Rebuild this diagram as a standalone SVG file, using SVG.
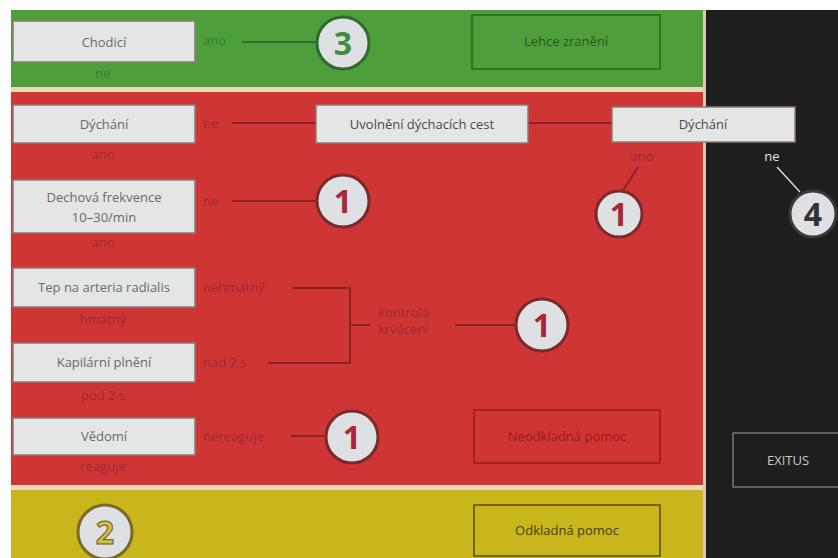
<svg xmlns="http://www.w3.org/2000/svg" width="838" height="558" viewBox="0 0 838 558">
<defs>
<style>
text{font-family:"Open Sans","Liberation Sans",sans-serif;}
.box{fill:#e4e6e6;stroke:#8a7a78;stroke-width:1.5;}
.bt{font-size:13px;fill:#6a6a6a;text-anchor:middle;}
.lr{font-size:13px;fill:#a02830;}
.lg{font-size:13px;fill:#2f7f2f;}
.lw{font-size:13px;fill:#e0e0e0;}
.cr{stroke:#8a2424;stroke-width:2;fill:none;}
.cg{stroke:#2f6f2f;stroke-width:2;fill:none;}
.circ{fill:#dfe0e3;stroke-width:3;}
.num{font-size:32px;font-weight:bold;text-anchor:middle;}
</style>
</defs>
<rect width="838" height="558" fill="#ffffff"/>
<!-- bands -->
<rect x="11" y="10" width="694" height="78" fill="#4e9e3c"/>
<rect x="11" y="87" width="694" height="5" fill="#ead9b6"/>
<rect x="11" y="92" width="694" height="393" fill="#cf3535"/>
<rect x="11" y="485" width="694" height="5" fill="#ead9b6"/>
<rect x="11" y="490" width="694" height="68" fill="#c9b61c"/>
<rect x="703" y="10" width="3" height="548" fill="#d9c7b4"/>
<rect x="706" y="10" width="132" height="548" fill="#1f1e1f"/>

<g id="connectors">
<line class="cg" x1="242" y1="42" x2="316" y2="42"/>
<line class="cr" x1="232" y1="123" x2="316" y2="123"/>
<line class="cr" x1="528" y1="123" x2="612" y2="123"/>
<line class="cr" x1="232" y1="201" x2="316" y2="201"/>
<line class="cr" x1="638" y1="167" x2="622" y2="192"/>
<line x1="777" y1="167" x2="800" y2="192" stroke="#d8d8d8" stroke-width="1.5"/>
<line class="cr" x1="292" y1="288" x2="350" y2="288"/>
<line class="cr" x1="268" y1="363" x2="350" y2="363"/>
<line class="cr" x1="350" y1="287" x2="350" y2="364"/>
<line class="cr" x1="350" y1="325" x2="370" y2="325"/>
<line class="cr" x1="455" y1="325" x2="515" y2="325"/>
<line class="cr" x1="291" y1="436" x2="324" y2="436"/>
</g>

<g id="chodici">
<rect class="box" x="13" y="21" width="182" height="41" stroke="#3d7a34"/>
<text class="bt" x="104" y="47">Chodicí</text>
<text class="lg" x="103" y="78" text-anchor="middle">ne</text>
<text class="lg" x="203" y="45">ano</text>
</g>
<g id="c3">
<circle class="circ" cx="343" cy="43" r="26" stroke="#2f6a2f"/>
<text class="num" x="343" y="55" fill="#3f8f3f">3</text>
</g>
<g id="lehce">
<rect x="472" y="15" width="188" height="54" fill="none" stroke="#1f6a1f" stroke-width="1.5"/>
<text x="566" y="46" font-size="13" text-anchor="middle" fill="#1f5a1f">Lehce zranění</text>
</g>

<g id="dychani1">
<rect class="box" x="13" y="105" width="182" height="38"/>
<text class="bt" x="104" y="129">Dýchání</text>
<text class="lr" x="103" y="159" text-anchor="middle">ano</text>
<text class="lr" x="203" y="128">ne</text>
</g>
<g id="uvolneni">
<rect class="box" x="316" y="105" width="212" height="38"/>
<text x="422" y="129" font-size="13" text-anchor="middle" fill="#4a4a4a">Uvolnění dýchacích cest</text>
</g>
<g id="dychani2">
<rect class="box" x="612" y="107" width="183" height="35"/>
<text x="703" y="129" font-size="13" text-anchor="middle" fill="#4a4a4a">Dýchání</text>
<text class="lr" x="642" y="161" text-anchor="middle">ano</text>
<text class="lw" x="772" y="161" text-anchor="middle">ne</text>
</g>
<g id="c1a">
<circle class="circ" cx="619" cy="214" r="23" stroke="#7a2a2a"/>
<text class="num" x="619" y="226" fill="#a8283a">1</text>
</g>
<g id="c4">
<circle class="circ" cx="813" cy="214" r="23" stroke="#3a3a3a"/>
<text class="num" x="813" y="226" fill="#333333">4</text>
</g>

<g id="dechova">
<rect class="box" x="13" y="180" width="182" height="53"/>
<text class="bt" x="104" y="202">Dechová frekvence</text>
<text class="bt" x="104" y="222">10–30/min</text>
<text class="lr" x="103" y="247" text-anchor="middle">ano</text>
<text class="lr" x="203" y="206">ne</text>
</g>
<g id="c1b">
<circle class="circ" cx="343" cy="201" r="26" stroke="#7a2a2a"/>
<text class="num" x="343" y="213" fill="#a8283a">1</text>
</g>

<g id="tep">
<rect class="box" x="13" y="268" width="182" height="39"/>
<text class="bt" x="104" y="292">Tep na arteria radialis</text>
<text class="lr" x="103" y="324" text-anchor="middle">hmatný</text>
<text class="lr" x="203" y="292">nehmatný</text>
</g>
<g id="kapilarni">
<rect class="box" x="13" y="343" width="182" height="39"/>
<text class="bt" x="104" y="367">Kapilární plnění</text>
<text class="lr" x="103" y="400" text-anchor="middle">pod 2 s</text>
<text class="lr" x="203" y="367">nad 2 s</text>
</g>
<g id="kontrola">
<text class="lr" x="378" y="317" font-size="12">kontrola</text>
<text class="lr" x="378" y="334" font-size="12">krvácení</text>
</g>
<g id="c1c">
<circle class="circ" cx="542" cy="325" r="26" stroke="#7a2a2a"/>
<text class="num" x="542" y="337" fill="#a8283a">1</text>
</g>

<g id="vedomi">
<rect class="box" x="13" y="418" width="182" height="37"/>
<text class="bt" x="104" y="441">Vědomí</text>
<text class="lr" x="103" y="471" text-anchor="middle">reaguje</text>
<text class="lr" x="203" y="441">nereaguje</text>
</g>
<g id="c1d">
<circle class="circ" cx="352" cy="437" r="26" stroke="#7a2a2a"/>
<text class="num" x="352" y="449" fill="#a8283a">1</text>
</g>
<g id="neodkladna">
<rect x="474" y="410" width="186" height="53" fill="none" stroke="#9a1a1a" stroke-width="1.5"/>
<text x="567" y="441" font-size="13" text-anchor="middle" fill="#9a1a1a">Neodkladná pomoc</text>
</g>

<g id="c2">
<circle class="circ" cx="105" cy="532" r="27" stroke="#7a6a2a"/>
<text class="num" x="105" y="544" fill="#cfc04a" stroke="#6a5a1a" stroke-width="1">2</text>
</g>
<g id="odkladna">
<rect x="474" y="505" width="186" height="51" fill="none" stroke="#5a4a10" stroke-width="1.5"/>
<text x="567" y="535" font-size="13" text-anchor="middle" fill="#4a3a10">Odkladná pomoc</text>
</g>

<g id="exitus">
<rect x="733" y="433" width="110" height="54" fill="none" stroke="#8a8a8a" stroke-width="1.2"/>
<text x="788" y="465" font-size="13" text-anchor="middle" fill="#c8c8c8">EXITUS</text>
</g>
</svg>
